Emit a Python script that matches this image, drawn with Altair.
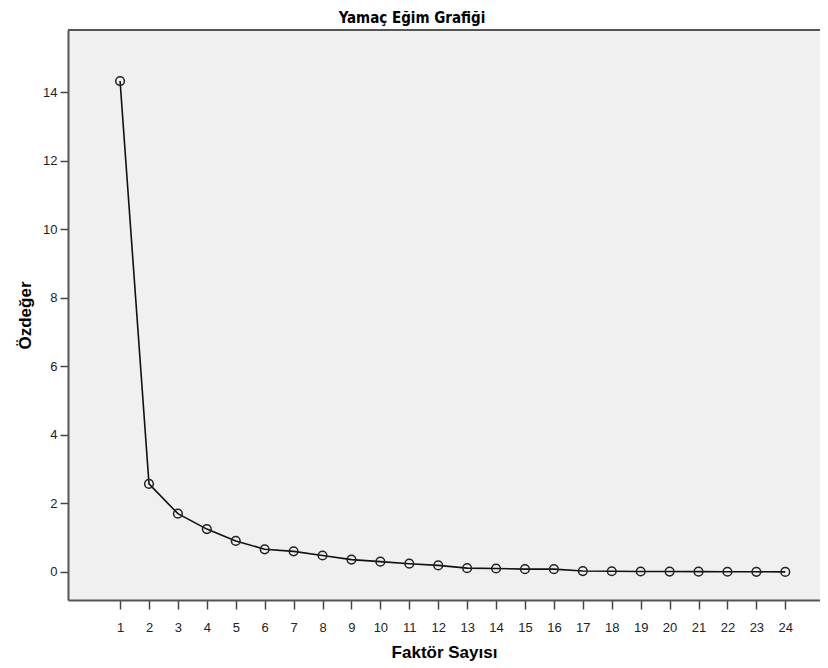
import altair as alt
import pandas as pd

factors = list(range(1, 25))
eigenvalues = [14.33, 2.57, 1.70, 1.25, 0.905, 0.66, 0.60, 0.48, 0.36, 0.30,
               0.24, 0.19, 0.11, 0.10, 0.08, 0.08, 0.025, 0.02, 0.012, 0.010,
               0.007, 0.005, 0.003, 0.001]
x_ticks = list(range(1, 25))
y_ticks = [0, 2, 4, 6, 8, 10, 12, 14]

df = pd.DataFrame({"Faktör": factors, "Özdeğer": eigenvalues})

W, H = 752, 570
FONT = "Liberation Sans"

x_enc = alt.X("Faktör:Q",
              scale=alt.Scale(domain=[-0.8, 25.2], nice=False, zero=False),
              axis=alt.Axis(values=x_ticks, title="Faktör Sayısı", grid=False,
                            tickSize=9, labelPadding=12, titlePadding=10,
                            format="d"))
y_enc = alt.Y("Özdeğer:Q",
              scale=alt.Scale(domain=[-0.82, 15.82], nice=False, zero=False),
              axis=alt.Axis(values=y_ticks, title="Özdeğer", grid=False,
                            tickSize=8, labelPadding=3, titlePadding=8,
                            format="d"))

base = alt.Chart(df)
line = base.mark_line(color="#111111", strokeWidth=1.6).encode(x=x_enc, y=y_enc)
points = base.mark_point(shape="circle", filled=False, size=75, color="#222222",
                         strokeWidth=1.5, opacity=1).encode(x=x_enc, y=y_enc)
top_border = alt.Chart(alt.Data(values=[{"a": 1}])).mark_rule(
    color="#555555", strokeWidth=2).encode(
    x=alt.value(0), x2=alt.value(W), y=alt.value(0))

chart = alt.layer(line, points, top_border).properties(
    width=W, height=H,
    autosize=alt.AutoSizeParams(type="none"),
    padding={"left": 60, "top": 22, "right": 0, "bottom": 66},
    title=alt.TitleParams("Yamaç Eğim Grafiği",
                          font="'DejaVu Sans Condensed', 'Liberation Sans', sans-serif",
                          fontSize=15, fontWeight="bold", color="#000000",
                          anchor="middle", dx=-32, offset=3),
).configure_view(
    fill="#f0f0f0", strokeOpacity=0
).configure_axis(
    domainColor="#555555", domainWidth=2, tickColor="#444444", tickWidth=1.5,
    labelFont=FONT, labelFontSize=13, labelColor="#222222",
    titleFont=FONT, titleFontSize=17, titleFontWeight="bold", titleColor="#000000",
)

chart.save("out.html", embed_options={"renderer": "svg", "actions": False})
